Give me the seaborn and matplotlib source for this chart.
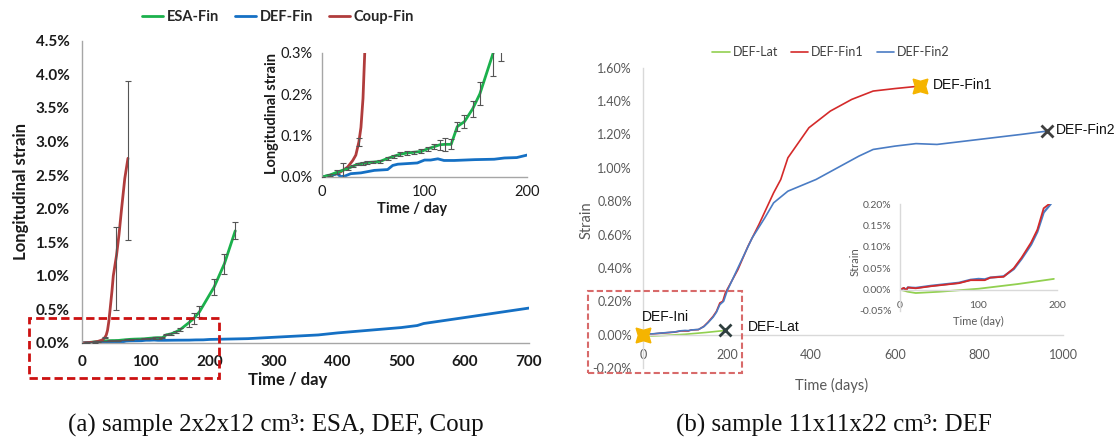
import numpy as np
import matplotlib
matplotlib.use("Agg")
import matplotlib.pyplot as plt
import seaborn as sns
from matplotlib.ticker import FuncFormatter
from matplotlib.patches import Rectangle

# ---------------- panel (a): sample 2x2x12 cm3 ----------------
esa_days = [0, 8, 15, 20, 25, 30, 35, 40, 44, 50, 57, 64, 70, 76, 83, 90, 97, 103, 109,
            115, 120, 126, 132, 139, 147, 154, 167, 175, 184, 207, 223, 240]
esa_strain = [0, 0.005, 0.012, 0.016, 0.02, 0.026, 0.031, 0.033, 0.035, 0.036, 0.038, 0.045,
              0.05, 0.055, 0.058, 0.060, 0.062, 0.068, 0.073, 0.078, 0.079, 0.079, 0.122,
              0.134, 0.165, 0.201, 0.30, 0.365, 0.465, 0.835, 1.18, 1.67]
esa_err = [0, 0.003, 0.004, 0.018, 0.004, 0.003, 0.003, 0.003, 0.003, 0.003, 0.003, 0.004,
           0.004, 0.005, 0.004, 0.004, 0.005, 0.005, 0.006, 0.012, 0.015, 0.012, 0.01,
           0.015, 0.02, 0.028, 0.055, 0.085, 0.085, 0.115, 0.15, 0.125]

coup_days = [0, 6, 12, 18, 25, 30, 33, 36, 38, 40, 42, 44, 47, 49, 54, 58, 62, 67, 72]
coup_strain = [0, 0.003, 0.006, 0.012, 0.024, 0.04, 0.053, 0.085, 0.12, 0.19, 0.32, 0.5,
               0.78, 1.0, 1.3, 1.62, 2.0, 2.45, 2.75]
coup_eb_days = [36, 54, 72]
coup_eb_low = [0.075, 0.49, 1.53]
coup_eb_high = [0.095, 1.73, 3.9]

deffin_days = [0, 8, 15, 18, 22, 28, 38, 51, 64, 69, 74, 93, 100, 106, 113, 119, 129, 149,
               168, 178, 190, 200, 260, 370, 400, 450, 500, 525, 535, 600, 650, 700]
deffin_strain = [0, 0.004, 0.008, 0.001, 0.002, 0.008, 0.01, 0.016, 0.018, 0.028, 0.031,
                 0.034, 0.041, 0.041, 0.044, 0.040, 0.040, 0.042, 0.043, 0.046, 0.047, 0.053,
                 0.065, 0.12, 0.15, 0.19, 0.23, 0.26, 0.29, 0.38, 0.45, 0.52]

# ---------------- panel (b): sample 11x11x22 cm3 ----------------
fin1_days = [0, 5, 8, 10, 20, 40, 60, 75, 90, 100, 108, 115, 132, 145, 155, 167, 175, 183,
             190, 196, 226, 250, 276, 311, 328, 345, 395, 446, 497, 548, 600, 660]
fin1_strain = [0, 0.004, -0.002, 0.005, 0.003, 0.008, 0.012, 0.015, 0.022, 0.022, 0.022,
               0.028, 0.03, 0.05, 0.075, 0.11, 0.14, 0.19, 0.2, 0.25, 0.39, 0.53, 0.66, 0.85,
               0.93, 1.06, 1.24, 1.34, 1.41, 1.46, 1.475, 1.49]
fin2_days = [0, 5, 8, 10, 20, 40, 60, 75, 90, 100, 108, 115, 132, 145, 155, 167, 175, 183,
             192, 200, 226, 260, 290, 311, 345, 412, 463, 514, 548, 600, 650, 700, 800, 900, 962]
fin2_strain = [0, 0.003, 0.0, 0.005, 0.004, 0.009, 0.013, 0.016, 0.023, 0.025, 0.024, 0.028,
               0.031, 0.048, 0.072, 0.105, 0.135, 0.18, 0.2, 0.26, 0.40, 0.58, 0.70, 0.79,
               0.86, 0.93, 1.0, 1.07, 1.11, 1.13, 1.145, 1.14, 1.17, 1.20, 1.22]
lat_days = [0, 10, 20, 50, 100, 150, 196]
lat_strain = [0, -0.005, -0.008, -0.005, 0.002, 0.013, 0.025]

captions = ["(a) sample 2x2x12 cm³: ESA, DEF, Coup", "(b) sample 11x11x22 cm³: DEF"]

# ---------------- style ----------------
sns.set_style("white")
plt.rcParams['font.family'] = ['Lato', 'DejaVu Sans']
plt.rcParams['axes.linewidth'] = 1.0

C_ESA, C_DEF, C_COUP = "#1bb14c", "#1570c4", "#b03c3c"
C_LAT, C_FIN1, C_FIN2 = "#92d050", "#d42a2a", "#4a7cc4"
W, H = 1115, 443

fig = plt.figure(figsize=(W / 100, H / 100), dpi=100)


def fax(l, r, t, b):
    return fig.add_axes([l / W, 1 - b / H, (r - l) / W, (b - t) / H])


def pct(d):
    return FuncFormatter(lambda v, p: f"{(v if abs(v) > 1e-9 else 0):.{d}f}%")


def style(ax, spine_c, tick_c, size, weight, ypad=4):
    for s in ['top', 'right']:
        ax.spines[s].set_visible(False)
    for s in ['left', 'bottom']:
        ax.spines[s].set_color(spine_c)
    ax.tick_params(axis='both', which='both', direction='out', length=4, width=0.8,
                   color=spine_c, labelcolor=tick_c, labelsize=size, pad=ypad)
    for lab in ax.get_xticklabels() + ax.get_yticklabels():
        lab.set_fontweight(weight)
    ax.patch.set_alpha(0)


# ---------- (a) main ----------
axa = fax(82, 529, 40.7, 343)
sns.lineplot(x=esa_days, y=esa_strain, ax=axa, color=C_ESA, lw=2.0, label="ESA-Fin", legend=False)
sns.lineplot(x=deffin_days, y=deffin_strain, ax=axa, color=C_DEF, lw=2.0, label="DEF-Fin", legend=False)
sns.lineplot(x=coup_days, y=coup_strain, ax=axa, color=C_COUP, lw=2.0, label="Coup-Fin", legend=False)
axa.errorbar(esa_days, esa_strain, yerr=esa_err, fmt='none', ecolor='#555555',
             elinewidth=0.8, capsize=2.5, capthick=0.8, zorder=4)
cmid = [(lo + hi) / 2 for lo, hi in zip(coup_eb_low, coup_eb_high)]
cerr = [(hi - lo) / 2 for lo, hi in zip(coup_eb_low, coup_eb_high)]
axa.errorbar(coup_eb_days, cmid, yerr=cerr, fmt='none', ecolor='#555555',
             elinewidth=0.8, capsize=2.5, capthick=0.8, zorder=4)
axa.set_xlim(0, 700)
axa.set_ylim(0, 4.5)
axa.set_xticks(range(0, 701, 100))
axa.set_yticks([i * 0.5 for i in range(10)])
axa.yaxis.set_major_formatter(pct(1))
style(axa, '#a6a6a6', '#1a1a1a', 11, 'bold', ypad=5)
axa.set_xlabel("Time / day", fontsize=12, fontweight='bold', color='#1a1a1a')
axa.set_ylabel("Longitudinal strain", fontsize=12, fontweight='bold', color='#1a1a1a')
axa.xaxis.set_label_coords((288 - 82) / 447, -(380 - 343) / 302.3)
axa.yaxis.set_label_coords(-(82 - 21) / 447, 0.5)
axa.xaxis.label.set_va('center')
axa.yaxis.label.set_va('center')

h, l = axa.get_legend_handles_labels()
fig.legend(h, l, loc='center', bbox_to_anchor=(278 / W, 1 - 17 / H), ncol=3, frameon=False,
           prop={'weight': 'bold', 'size': 10.5}, handlelength=1.45, handletextpad=0.25,
           columnspacing=1.1)

# ---------- (a) inset ----------
axai = fax(322, 527, 53, 177)
sns.lineplot(x=coup_days, y=coup_strain, ax=axai, color=C_COUP, lw=2.0, legend=False)
sns.lineplot(x=deffin_days, y=deffin_strain, ax=axai, color=C_DEF, lw=2.0, legend=False)
sns.lineplot(x=esa_days, y=esa_strain, ax=axai, color=C_ESA, lw=2.0, legend=False)
axai.errorbar(esa_days, esa_strain, yerr=esa_err, fmt='none', ecolor='#555555',
              elinewidth=0.8, capsize=2.5, capthick=0.8, zorder=4)
axai.errorbar(coup_eb_days, cmid, yerr=cerr, fmt='none', ecolor='#555555',
              elinewidth=0.8, capsize=2.5, capthick=0.8, zorder=4)
axai.set_xlim(0, 200)
axai.set_ylim(0, 0.3)
axai.set_xticks([0, 100, 200])
axai.set_yticks([0, 0.1, 0.2, 0.3])
axai.yaxis.set_major_formatter(pct(1))
style(axai, '#a6a6a6', '#1a1a1a', 10.5, 'normal', ypad=3)
axai.tick_params(axis='x', pad=1.5)
axai.set_xlabel("Time / day", fontsize=10.5, fontweight='bold', color='#1a1a1a')
axai.set_ylabel("Longitudinal strain", fontsize=10.5, fontweight='bold', color='#1a1a1a')
axai.xaxis.set_label_coords((412 - 322) / 205, -(209 - 177) / 124)
axai.yaxis.set_label_coords(-(322 - 272) / 205, (177 - 113) / 124)
axai.xaxis.label.set_va('center')
axai.yaxis.label.set_va('center')

# ---------- (b) main ----------
axb = fax(643, 1063, 67.7, 368)
sns.lineplot(x=lat_days, y=lat_strain, ax=axb, color=C_LAT, lw=1.2, label="DEF-Lat", legend=False)
sns.lineplot(x=fin1_days, y=fin1_strain, ax=axb, color=C_FIN1, lw=1.2, label="DEF-Fin1", legend=False)
sns.lineplot(x=fin2_days, y=fin2_strain, ax=axb, color=C_FIN2, lw=1.2, label="DEF-Fin2", legend=False)
axb.set_xlim(0, 1000)
axb.set_ylim(-0.2, 1.6)
axb.set_xticks(range(0, 1001, 200))
axb.set_yticks([round(-0.2 + 0.2 * i, 2) for i in range(10)])
axb.yaxis.set_major_formatter(pct(2))
axb.spines['bottom'].set_position(('data', 0))
style(axb, '#d9d9d9', '#595959', 9, 'normal', ypad=4)
axb.tick_params(axis='x', pad=6)
axb.set_xlabel("Time (days)", fontsize=10.5, color='#595959')
axb.set_ylabel("Strain", fontsize=10.5, color='#595959')
axb.xaxis.set_label_coords((832 - 643) / 420, -(385 - 368) / 300.3)
axb.yaxis.set_label_coords(-(643 - 587) / 420, (368 - 220) / 300.3)
axb.xaxis.label.set_va('center')
axb.yaxis.label.set_va('center')

# end markers and labels
axb.plot(fin1_days[-1], fin1_strain[-1], marker=(4, 1, 45), ms=15, color='#f5b400', zorder=5, clip_on=False)
axb.plot(0, 0, marker=(4, 1, 45), ms=15, color='#f5b400', zorder=5, clip_on=False)
axb.plot(fin2_days[-1], fin2_strain[-1], marker='x', ms=8, mew=2, color='#404040', zorder=5, clip_on=False)
axb.plot(lat_days[-1], lat_strain[-1], marker='x', ms=8, mew=2, color='#2f3f3f', zorder=5, clip_on=False)
akw = dict(textcoords='offset pixels', fontsize=10, family='Liberation Sans', color='#111111', va='center')
axb.annotate("DEF-Fin1", (fin1_days[-1], fin1_strain[-1]), xytext=(13, 1), **akw)
axb.annotate("DEF-Fin2", (fin2_days[-1], fin2_strain[-1]), xytext=(9, 1), **akw)
axb.annotate("DEF-Lat", (lat_days[-1], lat_strain[-1]), xytext=(23, 3), **akw)
axb.annotate("DEF-Ini", (0, 0), xytext=(-1, 18), **akw)

h, l = axb.get_legend_handles_labels()
fig.legend(h, l, loc='center', bbox_to_anchor=(831 / W, 1 - 52 / H), ncol=3, frameon=False,
           prop={'size': 9}, handlelength=1.4, handletextpad=0.25, columnspacing=1.0,
           labelcolor='#404040')

# ---------- (b) inset ----------
axbi = fax(900, 1057, 204, 311)
sns.lineplot(x=lat_days, y=lat_strain, ax=axbi, color=C_LAT, lw=1.3, legend=False)
sns.lineplot(x=fin2_days, y=fin2_strain, ax=axbi, color=C_FIN2, lw=1.6, legend=False)
sns.lineplot(x=fin1_days, y=fin1_strain, ax=axbi, color=C_FIN1, lw=1.3, legend=False)
axbi.set_xlim(0, 200)
axbi.set_ylim(-0.05, 0.2)
axbi.set_xticks([0, 100, 200])
axbi.set_yticks([-0.05, 0, 0.05, 0.1, 0.15, 0.2])
axbi.yaxis.set_major_formatter(pct(2))
axbi.spines['bottom'].set_position(('data', 0))
style(axbi, '#d9d9d9', '#595959', 7.5, 'normal', ypad=3)
axbi.tick_params(axis='x', pad=5, length=3)
axbi.tick_params(axis='y', length=3)
axbi.set_xlabel("Time (day)", fontsize=8, color='#595959')
axbi.set_ylabel("Strain", fontsize=8, color='#595959')
axbi.xaxis.set_label_coords((978 - 900) / 157, -(321 - 311) / 107)
axbi.yaxis.set_label_coords(-(900 - 855) / 157, (311 - 262) / 107)
axbi.xaxis.label.set_va('center')
axbi.yaxis.label.set_va('center')

# ---------- dashed zoom boxes ----------
fig.patches.append(Rectangle((29 / W, 1 - 378 / H), 190 / W, 60 / H, transform=fig.transFigure,
                             fill=False, ec='#cc1111', lw=2.0, ls=(0, (3, 1.5))))
fig.patches.append(Rectangle((588 / W, 1 - 373 / H), 154 / W, 82 / H, transform=fig.transFigure,
                             fill=False, ec='#d86a6a', lw=1.5, ls=(0, (3, 1.5))))

# ---------- captions ----------
fig.text(276 / W, 1 - 432 / H, captions[0], ha='center', va='baseline', fontsize=18,
         family='Liberation Serif', color='#111111')
fig.text(834 / W, 1 - 432 / H, captions[1], ha='center', va='baseline', fontsize=18,
         family='Liberation Serif', color='#111111')

fig.savefig("out.png", dpi=100)
